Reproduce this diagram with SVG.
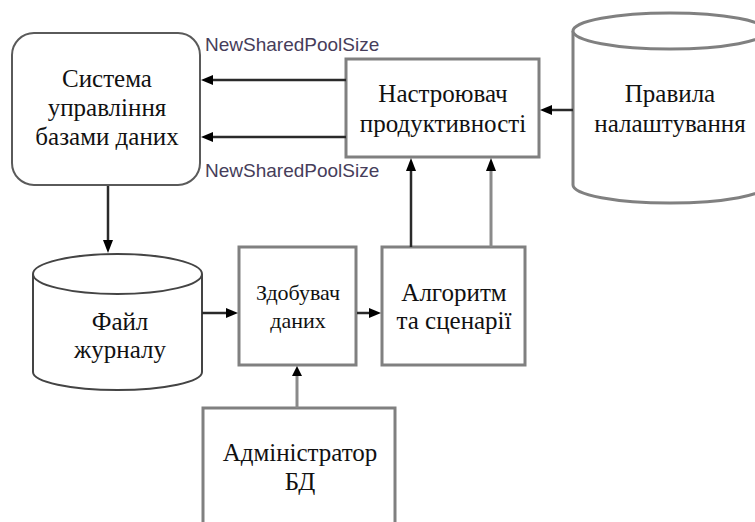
<svg xmlns="http://www.w3.org/2000/svg" width="755" height="522" viewBox="0 0 755 522">
  <style>
    .box { fill: #fff; stroke: #808080; stroke-width: 3; }
    .dbms { fill: #fff; stroke: #5a5a5a; stroke-width: 2; }
    .store { fill: #fff; stroke: #444; stroke-width: 2; }
    .rules { fill: #fff; stroke: #808080; stroke-width: 3; }
    .edge { fill: none; stroke: #2a2a2a; stroke-width: 2.5; }
    .edge-g { fill: none; stroke: #8a8a8a; stroke-width: 3; }
    .tip { fill: #000; }
  </style>
  <rect width="755" height="522" fill="#fff"/>

  <!-- database management system -->
  <g id="dbms">
    <rect class="dbms" x="12" y="33" width="188" height="152" rx="22" ry="22"/>
    <text x="107" y="87" font-family="Liberation Serif" font-size="25" fill="#111" text-anchor="middle">Система</text>
    <text x="107" y="116" font-family="Liberation Serif" font-size="25" fill="#111" text-anchor="middle">управління</text>
    <text x="107" y="145" font-family="Liberation Serif" font-size="25" fill="#111" text-anchor="middle">базами даних</text>
  </g>

  <!-- performance tuner -->
  <g id="tuner">
    <rect class="box" x="346" y="59" width="193" height="98"/>
    <text x="443" y="102" font-family="Liberation Serif" font-size="25" fill="#111" text-anchor="middle">Настроювач</text>
    <text x="443" y="132" font-family="Liberation Serif" font-size="25" fill="#111" text-anchor="middle">продуктивності</text>
  </g>

  <!-- tuning rules store -->
  <g id="rules">
    <path class="rules" d="M573,31 L573,185 A97,18 0 0 0 767,185 L767,31"/>
    <ellipse class="rules" cx="670" cy="31" rx="97" ry="18"/>
    <text x="670" y="102" font-family="Liberation Serif" font-size="25" fill="#111" text-anchor="middle">Правила</text>
    <text x="670" y="132" font-family="Liberation Serif" font-size="25" fill="#111" text-anchor="middle">налаштування</text>
  </g>

  <!-- log file store -->
  <g id="logfile">
    <path class="store" d="M33,274 L33,372 A84.5,18 0 0 0 202,372 L202,274"/>
    <ellipse class="store" cx="117.5" cy="274" rx="84.5" ry="20"/>
    <text x="120" y="330" font-family="Liberation Serif" font-size="25" fill="#111" text-anchor="middle">Файл</text>
    <text x="120" y="358" font-family="Liberation Serif" font-size="25" fill="#111" text-anchor="middle">журналу</text>
  </g>

  <!-- data collector -->
  <g id="collector">
    <rect class="box" x="239" y="247" width="117" height="118"/>
    <text x="298" y="300" font-family="Liberation Serif" font-size="22" fill="#111" text-anchor="middle">Здобувач</text>
    <text x="298" y="328" font-family="Liberation Serif" font-size="22" fill="#111" text-anchor="middle">даних</text>
  </g>

  <!-- algorithms and scenarios -->
  <g id="algorithms">
    <rect class="box" x="382" y="247" width="143" height="118"/>
    <text x="454" y="301" font-family="Liberation Serif" font-size="25" fill="#111" text-anchor="middle">Алгоритм</text>
    <text x="454" y="329" font-family="Liberation Serif" font-size="25" fill="#111" text-anchor="middle">та сценарії</text>
  </g>

  <!-- database administrator -->
  <g id="admin">
    <rect class="box" x="203" y="408" width="192" height="130"/>
    <text x="300" y="461" font-family="Liberation Serif" font-size="25" fill="#111" text-anchor="middle">Адміністратор</text>
    <text x="300" y="490" font-family="Liberation Serif" font-size="25" fill="#111" text-anchor="middle">БД</text>
  </g>

  <!-- connectors: shafts, then solid arrow tips -->
  <g id="connectors">
    <line class="edge" x1="346" y1="80" x2="212" y2="80"/>
    <path class="tip" d="M201,80 L213,75 L213,85 Z"/>
    <line class="edge" x1="346" y1="137" x2="212" y2="137"/>
    <path class="tip" d="M201,137 L213,132 L213,142 Z"/>
    <line class="edge" x1="573" y1="110" x2="550" y2="110"/>
    <path class="tip" d="M540,110 L552,105 L552,115 Z"/>
    <line class="edge" x1="108" y1="186" x2="108" y2="242"/>
    <path class="tip" d="M108,253 L103,240 L113,240 Z"/>
    <line class="edge" x1="202" y1="313" x2="228" y2="313"/>
    <path class="tip" d="M238,313 L226,308 L226,318 Z"/>
    <line class="edge" x1="357" y1="313" x2="371" y2="313"/>
    <path class="tip" d="M381,313 L369,308 L369,318 Z"/>
    <line class="edge" x1="411" y1="247" x2="411" y2="168"/>
    <path class="tip" d="M411,158 L406,171 L416,171 Z"/>
    <line class="edge-g" x1="491" y1="247" x2="491" y2="168"/>
    <path class="tip" d="M491,158 L486,171 L496,171 Z"/>
    <line class="edge-g" x1="297" y1="408" x2="297" y2="374"/>
    <path class="tip" d="M297,366 L292,376 L302,376 Z"/>
    <text x="205" y="51" font-family="Liberation Sans" font-size="19" fill="#463d5a">NewSharedPoolSize</text>
    <text x="205" y="177" font-family="Liberation Sans" font-size="19" fill="#463d5a">NewSharedPoolSize</text>
  </g>
</svg>
